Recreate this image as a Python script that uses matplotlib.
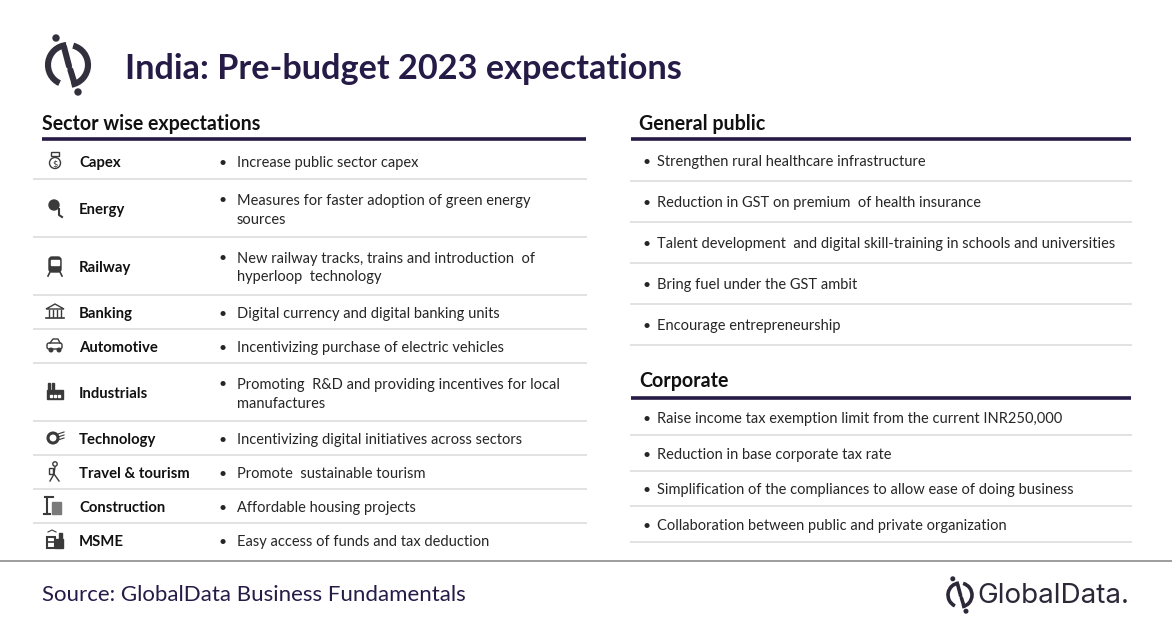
import numpy as np
import matplotlib.pyplot as plt
from matplotlib.patches import Arc, Circle, Rectangle, FancyBboxPatch

# ------------ Data ------------
title = "India: Pre-budget 2023 expectations"
source = "Source: GlobalData Business Fundamentals"

sectors = ["Capex", "Energy", "Railway", "Banking", "Automotive", "Industrials",
           "Technology", "Travel & tourism", "Construction", "MSME"]
sector_expectations = [
    "Increase public sector capex",
    "Measures for faster adoption of green energy\nsources",
    "New railway tracks, trains and introduction  of\nhyperloop  technology",
    "Digital currency and digital banking units",
    "Incentivizing purchase of electric vehicles",
    "Promoting  R&D and providing incentives for local\nmanufactures",
    "Incentivizing digital initiatives across sectors",
    "Promote  sustainable tourism",
    "Affordable housing projects",
    "Easy access of funds and tax deduction",
]
general_public = [
    "Strengthen rural healthcare infrastructure",
    "Reduction in GST on premium  of health insurance",
    "Talent development  and digital skill-training in schools and universities",
    "Bring fuel under the GST ambit",
    "Encourage entrepreneurship",
]
corporate = [
    "Raise income tax exemption limit from the current INR250,000",
    "Reduction in base corporate tax rate",
    "Simplification of the compliances to allow ease of doing business",
    "Collaboration between public and private organization",
]

# ------------ Style ------------
PURPLE = "#261a47"
DARK = "#262626"
ICON = "#3a3a3a"
SEP = "#e2e2e2"
FONT = "Lato"
DY = 2  # nudge text down a touch

W, H = 1172, 628
fig = plt.figure(figsize=(W / 100, H / 100), dpi=100)
ax = fig.add_axes([0, 0, 1, 1])
ax.set_xlim(0, W)
ax.set_ylim(H, 0)
ax.axis("off")


def logo(ax, cx, cy, r, lw, color):
    ax.add_patch(Arc((cx, cy), 2 * r, 2 * r, theta1=-75, theta2=80,
                     color=color, lw=lw))
    ax.add_patch(Arc((cx, cy), 2 * r, 2 * r, theta1=115, theta2=265,
                     color=color, lw=lw))
    # slash through the middle, with a small break
    ax.plot([cx - r * 0.2, cx + r * 0.05], [cy - r * 0.9, cy + r * 0.05],
            color=color, lw=lw, solid_capstyle="round")
    ax.plot([cx + r * 0.12, cx + r * 0.32], [cy + r * 0.25, cy + r * 0.9],
            color=color, lw=lw, solid_capstyle="round")
    ax.add_patch(Circle((cx - r * 0.6, cy - r * 1.35), r * 0.15, color=color))
    ax.add_patch(Circle((cx + r * 0.5, cy + r * 1.35), r * 0.15, color=color))


def sector_icon(ax, name, x, y):
    c = ICON
    if name == "Capex":
        ax.add_patch(Circle((x, y + 2), 5.5, fill=False, ec=c, lw=1))
        ax.text(x, y + 2.5, "$", ha="center", va="center", fontsize=6, color=c)
        ax.add_patch(Rectangle((x - 4, y - 9), 8, 4, fill=False, ec=c, lw=1))
    elif name == "Energy":
        ax.add_patch(Circle((x - 1, y - 3), 5, color=c))
        ax.plot([x + 4, x + 4, x + 7], [y + 1, y + 7, y + 9], color=c, lw=1.5)
    elif name == "Railway":
        ax.add_patch(FancyBboxPatch((x - 6, y - 9), 12, 15,
                                    boxstyle="round,pad=0,rounding_size=3", color=c))
        ax.add_patch(Rectangle((x - 4, y - 6), 8, 5, color="white"))
        ax.plot([x - 5, x - 7], [y + 6, y + 10], color=c, lw=1.2)
        ax.plot([x + 5, x + 7], [y + 6, y + 10], color=c, lw=1.2)
    elif name == "Banking":
        ax.fill([x - 9, x, x + 9], [y - 3, y - 8, y - 3], fc="none", ec=c, lw=1)
        for dx in (-6, -2, 2, 6):
            ax.plot([dx + x, dx + x], [y - 2, y + 5], color=c, lw=1)
        ax.plot([x - 9, x + 9], [y + 6, y + 6], color=c, lw=1.2)
    elif name == "Automotive":
        ax.add_patch(FancyBboxPatch((x - 8, y - 3), 15, 6,
                                    boxstyle="round,pad=0,rounding_size=2",
                                    fill=False, ec=c, lw=1))
        ax.plot([x - 5, x - 2, x + 3, x + 5], [y - 3, y - 7, y - 7, y - 3], color=c, lw=1)
        ax.add_patch(Circle((x - 4, y + 4), 1.8, color=c))
        ax.add_patch(Circle((x + 4, y + 4), 1.8, color=c))
    elif name == "Industrials":
        ax.add_patch(Rectangle((x - 7, y - 9), 2, 8, color=c))
        ax.add_patch(Rectangle((x - 3, y - 9), 2, 8, color=c))
        ax.add_patch(Rectangle((x - 8, y - 2), 16, 9, color=c))
        for dx in (-5, -1, 3):
            ax.add_patch(Rectangle((x + dx, y + 3), 2, 2, color="white"))
    elif name == "Technology":
        ax.add_patch(Circle((x - 2, y), 5, fill=False, ec=c, lw=2.2))
        for dy in (-4, -1, 2):
            ax.plot([x + 3, x + 9], [y + dy, y + dy - 2], color=c, lw=0.8)
    elif name == "Travel & tourism":
        ax.add_patch(Circle((x, y - 8), 2.2, fill=False, ec=c, lw=1))
        ax.plot([x, x - 1, x - 5], [y - 5, y + 2, y + 9], color=c, lw=1)
        ax.plot([x - 1, x + 4], [y + 2, y + 9], color=c, lw=1)
        ax.add_patch(Rectangle((x - 6, y - 4), 4, 6, fill=False, ec=c, lw=1))
    elif name == "Construction":
        ax.plot([x - 8, x - 8], [y - 9, y + 8], color=c, lw=1.5)
        ax.plot([x - 10, x - 2], [y - 9, y - 9], color=c, lw=1.5)
        ax.plot([x - 11, x - 5], [y + 8, y + 8], color=c, lw=1.5)
        ax.add_patch(Rectangle((x - 3, y - 4), 9, 12, color="#7a7a7a"))
    elif name == "MSME":
        ax.add_patch(Rectangle((x - 8, y - 3), 8, 11, fill=False, ec=c, lw=1.5))
        ax.plot([x - 8, x], [y + 2, y + 2], color=c, lw=1.2)
        ax.add_patch(Rectangle((x, y - 1), 8, 9, color=c))
        ax.add_patch(Rectangle((x + 4, y - 7), 3, 7, color=c))
        ax.plot([x - 7, x - 3, x + 1], [y - 8, y - 10, y - 8], color=c, lw=0.8)


# ------------ Header ------------
logo(ax, 68, 65, 20, 4.4, "#33303e")
ax.text(125, 66 + 3, title, fontsize=24.7, fontweight="bold", color=PURPLE,
        family=FONT, va="center", ha="left")

# ------------ Left: sector table ------------
ax.text(42, 122 + DY, "Sector wise expectations", fontsize=14.1, fontweight="bold",
        color="#111111", family=FONT, va="center")
ax.plot([42, 586], [139, 139], color=PURPLE, lw=2.6, solid_capstyle="butt")

y = 145
for i, (sec, exp) in enumerate(zip(sectors, sector_expectations)):
    n = exp.count("\n") + 1
    h = 34 + 24 * (n - 1)
    top = y
    mid = top + h / 2 + (0 if i else -1)
    sector_icon(ax, sec, 55, mid)
    ax.text(79, mid + DY, sec, fontsize=10.7, fontweight="bold", color="#111111",
            family=FONT, va="center")
    lines = exp.split("\n")
    for k, ln in enumerate(lines):
        ly = mid + (k - (n - 1) / 2) * 19 + DY
        if k == 0:
            ax.text(219, ly, "\u2022", fontsize=10, color=DARK, family=FONT, va="center")
        ax.text(237, ly, ln, fontsize=10.5, color=DARK, family=FONT, va="center")
    y = top + h
    if i < len(sectors) - 1:
        ax.plot([34, 586], [y, y], color=SEP, lw=1.4)

# ------------ Right: general public ------------
ax.text(639, 122 + DY, "General public", fontsize=14.1, fontweight="bold",
        color="#111111", family=FONT, va="center")
ax.plot([631, 1131], [139, 139], color=PURPLE, lw=2.6, solid_capstyle="butt")
for i, item in enumerate(general_public):
    mid = 160 + i * 41
    ax.text(642, mid + DY, "\u2022", fontsize=10, color=DARK, family=FONT, va="center")
    ax.text(657, mid + DY, item, fontsize=10.5, color=DARK, family=FONT, va="center")
    ax.plot([631, 1131], [mid + 20.5, mid + 20.5], color=SEP, lw=1.4)

# ------------ Right: corporate ------------
ax.text(639, 379 + DY, "Corporate", fontsize=14.1, fontweight="bold",
        color="#111111", family=FONT, va="center")
ax.plot([631, 1131], [398, 398], color=PURPLE, lw=2.6, solid_capstyle="butt")
for i, item in enumerate(corporate):
    mid = 417 + i * 35.6
    ax.text(642, mid + DY, "\u2022", fontsize=10, color=DARK, family=FONT, va="center")
    ax.text(657, mid + DY, item, fontsize=10.5, color=DARK, family=FONT, va="center")
    ax.plot([631, 1131], [mid + 18, mid + 18], color=SEP, lw=1.4)

# ------------ Footer ------------
ax.plot([0, W], [561, 561], color="#8c8c8c", lw=1.2)
ax.text(42, 593 + DY, source, fontsize=16, color=PURPLE, family=FONT, va="center")
logo(ax, 960, 595, 12, 2.6, "#2c2838")
ax.text(977, 595 + 1, "GlobalData.", fontsize=20, color="#2c2838",
        family="Inter", va="center", ha="left")

fig.savefig("out.png", dpi=100)
